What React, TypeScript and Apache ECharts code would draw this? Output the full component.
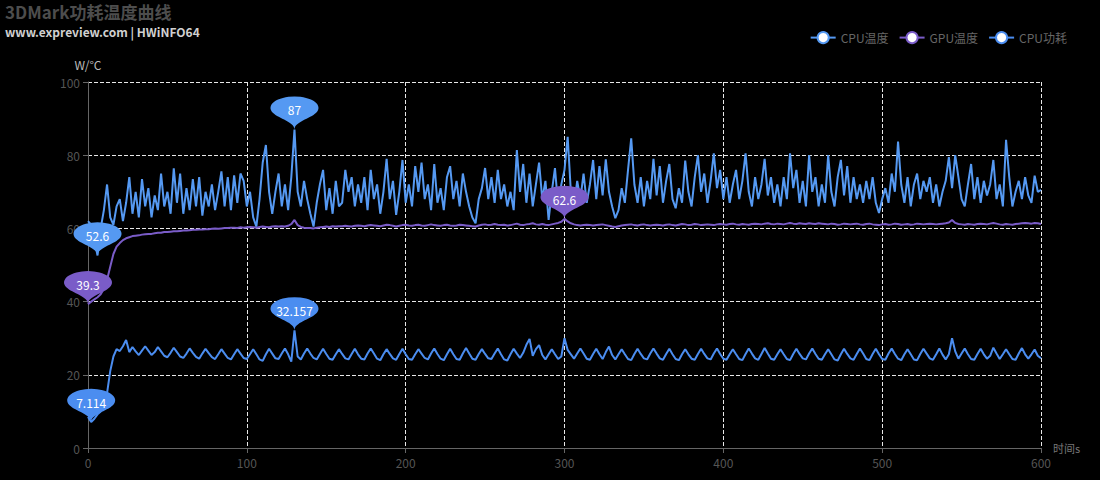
import React, { useEffect, useRef } from 'react';
import * as echarts from 'echarts';

// sampled every 2 seconds, 0..600 s
const STEP_S = 2;

const seriesNames = ['CPU温度', 'GPU温度', 'CPU功耗'];

const cpuTemp = [
  62, 61, 57, 52.6, 60, 65, 72, 63, 61, 66,
  68, 62, 67, 74, 64, 70, 63, 73.5, 66, 71,
  63, 69, 65, 75, 66, 70, 64, 76.4, 67, 75,
  64, 71, 65, 73.5, 66, 74, 63.5, 70, 66, 72,
  65, 70, 75.6, 66, 74, 65, 74.5, 67, 75, 73,
  66, 70, 63, 60.5, 68, 78, 82.8, 70, 64, 70,
  75, 66, 72, 65, 74, 87, 70, 66, 73, 68,
  64, 60.5, 67, 72, 76, 65, 71, 64, 73, 66,
  67, 76, 70, 74, 66, 72, 67, 74, 65, 76,
  68, 72, 64, 70, 79, 68, 73, 63.7, 70, 78.7,
  67, 72, 66, 77, 70, 78, 68, 72, 65, 77.6,
  67, 71, 65, 74, 77, 68, 73, 66, 75, 70,
  66, 63, 61.4, 68, 71, 76.5, 68, 74, 67, 76,
  68, 72, 66, 70, 65, 81.4, 70, 77.6, 67, 75,
  66, 72, 78, 68, 73, 62.3, 70, 76.5, 66, 72,
  76, 85, 70, 66, 73, 68, 75, 67, 72, 78.7,
  68, 77, 69, 78.9, 70, 66, 62.8, 65, 71, 67,
  76, 84.6, 72, 67, 74, 66, 73, 68, 79, 69,
  77, 67, 73, 77.6, 68, 65.5, 71, 67, 78.5, 70,
  66, 74, 80, 70, 75, 67, 73, 80.5, 71, 76,
  68, 74, 67, 72, 76, 68, 73, 80.5, 70, 66,
  74, 68, 72, 79, 69, 74, 67, 72, 66, 74,
  68, 80.5, 71, 76, 67, 73, 66, 80, 70, 74,
  66, 72, 67, 80, 70, 66, 74, 78.7, 69, 77,
  67, 74, 68, 72, 67, 73, 68, 74, 67, 64.2,
  68, 71, 67, 75, 70, 83.7, 72, 67, 74, 66,
  72, 75, 68, 73, 70, 74, 67, 72, 66, 70,
  73, 79.5, 71, 80, 74, 68, 66, 72, 77.6, 68,
  74, 67, 73, 69, 72, 78.7, 68, 72, 66, 84.2,
  74, 66, 70, 73, 68, 74, 69, 67, 74.4, 70,
  70.5,
];

const gpuTemp = [
  39.3, 40, 40.6, 41.2, 42, 43.5, 46, 49.5, 53, 55,
  56, 56.8, 57.3, 57.6, 57.9, 58, 58.1, 58.3, 58.4, 58.5,
  58.5, 58.7, 58.8, 58.8, 59, 59, 59.1, 59.2, 59.2, 59.3,
  59.4, 59.4, 59.5, 59.6, 59.6, 59.7, 59.7, 59.8, 59.8, 59.9,
  60, 59.9, 60, 60.1, 60.1, 60.2, 60.2, 60.1, 60.3, 60.2,
  60.3, 60.4, 60.3, 60.2, 60.4, 60.5, 60.4, 60.3, 60.5, 60.6,
  60.5, 60.6, 60.5, 60.7, 61.2, 62.3, 60.9, 60.4, 60.2, 60.1,
  60.1, 60, 60.2, 60.3, 60.4, 60.5, 60.4, 60.6, 60.5, 60.6,
  60.6, 60.7, 60.6, 60.5, 60.7, 60.8, 60.7, 60.6, 60.8, 60.9,
  60.8, 60.7, 60.6, 60.8, 61, 60.9, 60.7, 60.5, 60.7, 60.9,
  61, 60.8, 60.7, 60.9, 61, 60.8, 60.7, 60.9, 61.1, 60.9,
  60.8, 60.7, 60.9, 61, 60.8, 60.7, 60.8, 61, 60.9, 60.8,
  60.7, 60.6, 60.5, 60.8, 61, 61.1, 60.9, 61, 61.2, 61,
  60.9, 61, 60.8, 60.9, 61.1, 61.3, 61, 60.9, 61.1, 61.2,
  61.4, 61.1, 61, 61.2, 61, 60.9, 61.1, 61.3, 61.5, 61.8,
  62.6, 61.9, 61.4, 61.1, 60.9, 60.8, 60.9, 61, 60.9, 60.8,
  60.9, 61, 61.1, 60.9, 60.7, 60.5, 60.4, 60.6, 60.8, 60.9,
  61, 61.1, 60.9, 60.8, 61, 61.1, 60.9, 60.8, 60.9, 61,
  60.9, 60.8, 61, 61.1, 60.9, 60.8, 61, 61.2, 61.1, 60.9,
  61, 61.2, 61.1, 60.9, 61, 61.1, 61, 60.9, 61.1, 61.2,
  61.1, 61, 61.2, 61.3, 61.1, 61, 61.2, 61.1, 61, 61.2,
  61.3, 61.2, 61.1, 61.3, 61.4, 61.2, 61.1, 61.3, 61.2, 61.1,
  61.3, 61.5, 61.3, 61.2, 61.4, 61.3, 61.2, 61.4, 61.3, 61.2,
  61.4, 61.3, 61.2, 61.1, 61.3, 61.2, 61, 61.1, 61.3, 61.2,
  61.1, 61.2, 61.3, 61.1, 61, 61.2, 61.3, 61.1, 61, 60.9,
  61.1, 61.2, 61, 61.1, 61.3, 61.2, 61, 61.1, 61.2, 61,
  61.1, 61.3, 61.2, 61.1, 61.2, 61.3, 61.2, 61.1, 61.2, 61.3,
  61.4, 61.6, 62.3, 61.5, 61.2, 61.1, 61, 61.2, 61.1, 61,
  61.2, 61.3, 61.2, 61.1, 61.3, 61.5, 61.3, 61.1, 61, 61.2,
  61.1, 61, 61.2, 61.3, 61.4, 61.5, 61.4, 61.3, 61.5, 61.4,
  61.2,
];

const cpuPower = [
  8.5, 7.114, 8, 9.2, 10, 11.5, 15, 21, 25, 27,
  26.5, 27.8, 29.5, 26.2, 27.6, 26.4, 25.4, 26.6, 27.8, 26.6,
  25.4, 26.2, 27.6, 26.4, 25.2, 24.8, 26, 27.4, 26.2, 25,
  24.6, 25.8, 27.2, 26, 24.9, 24.4, 25.8, 27.1, 25.9, 24.8,
  24.3, 25.6, 27, 25.8, 24.6, 24.2, 25.6, 27, 25.8, 24.6,
  24.3, 25.6, 27, 25.6, 24.2, 23.8, 25.6, 27.1, 25.8, 24.5,
  24.3, 25.8, 27.2, 25.6, 23.6, 32.157, 25, 24.2, 25.8, 27.2,
  25.8, 24.6, 24.2, 25.7, 27.1, 25.7, 24.4, 24.1, 25.6, 27,
  25.7, 24.5, 24.2, 25.7, 27.1, 25.6, 24.4, 24.2, 25.8, 27.2,
  25.8, 24.4, 24, 25.6, 27, 25.7, 24.5, 24.1, 25.7, 27.1,
  25.6, 24.3, 24.1, 25.6, 27, 25.8, 24.6, 24.2, 25.8, 27.2,
  25.7, 24.4, 24, 25.6, 27.1, 25.6, 24.3, 24.1, 25.8, 27.3,
  25.8, 24.4, 24.1, 25.7, 27, 25.7, 24.5, 24.3, 25.8, 27.2,
  25.6, 24.2, 23.9, 25.6, 27.1, 25.8, 24.6, 26, 28.2, 29.8,
  25.2, 27, 28.1, 25.4, 24.2, 25.6, 27, 25.6, 24.3, 25,
  30, 26.8, 25.6, 24.4, 25.8, 27.2, 25.8, 24.4, 24.1, 25.7,
  27.1, 25.6, 24.3, 26.2, 27.7, 25.4, 24.2, 25.6, 27, 25.6,
  24.3, 24, 25.7, 27.1, 25.7, 24.5, 24.2, 25.8, 27.2, 25.8,
  24.5, 24.1, 25.7, 27.1, 25.6, 24.3, 24, 25.6, 27, 25.6,
  24.4, 24.1, 25.7, 27.1, 25.7, 24.5, 24.2, 25.8, 27.2, 25.7,
  24.4, 24.1, 25.6, 27, 25.6, 24.3, 24, 25.7, 27.2, 25.8,
  24.5, 24.1, 25.7, 27.3, 25.8, 24.4, 24.1, 25.6, 27, 25.6,
  24.3, 24, 25.7, 27.1, 25.7, 24.5, 24.2, 25.8, 27.2, 25.7,
  24.4, 24.1, 25.6, 27, 25.6, 24.2, 23.9, 25.6, 27.1, 25.7,
  24.5, 24.1, 25.7, 27.2, 25.8, 24.3, 24, 25.7, 27.1, 25.6,
  24.3, 24.1, 25.8, 27.2, 25.7, 24.4, 24, 25.6, 27, 25.6,
  24.2, 24, 25.7, 27.1, 25.8, 24.5, 24.1, 25.6, 27.2, 25.5,
  24.2, 25.6, 30, 26.4, 24.4, 25.8, 27.2, 25.6, 24.3, 24.1,
  25.7, 27.1, 25.6, 24.4, 25.2, 27.4, 25.8, 24.3, 25.6, 27,
  25.6, 24.3, 24.1, 25.8, 27.3, 25.6, 24.4, 25.6, 26.9, 25.2,
  24.5,
];

const seriesValues = [cpuTemp, gpuTemp, cpuPower];
const seriesColors = ['#5599f2', '#7a5cc8', '#4b8df0'];

const FONT = "'Microsoft YaHei', 'Noto Sans CJK SC', 'Noto Sans', sans-serif";

export default function App() {
  const ref = useRef<HTMLDivElement>(null);

  useEffect(() => {
    const chart = echarts.init(ref.current!, null, { renderer: 'svg' });
    const toPairs = (arr: number[]) => arr.map((v, i) => [i * STEP_S, v]);

    chart.setOption({
      animation: false,
      backgroundColor: '#000',
      textStyle: { fontFamily: FONT },
      title: {
        text: '3DMark功耗温度曲线',
        subtext: 'www.expreview.com | HWiNFO64',
        left: 0,
        top: -2,
        itemGap: 5,
        textStyle: { color: '#4d4d4d', fontSize: 17, fontWeight: 'bold', fontFamily: FONT },
        subtextStyle: { color: '#d0d0d0', fontSize: 12, fontWeight: 'bold', fontFamily: FONT },
      },
      legend: {
        data: seriesNames,
        right: 28,
        top: 26,
        itemGap: 10,
        itemWidth: 25,
        itemHeight: 14,
        textStyle: { color: '#666', fontSize: 12, fontFamily: FONT },
      },
      grid: { left: 88, right: 59, top: 82, bottom: 32, containLabel: false },
      xAxis: {
        type: 'value',
        min: 0,
        max: 600,
        interval: 100,
        name: '时间s',
        nameGap: 12,
        nameTextStyle: { color: '#777', fontSize: 11 },
        axisLine: { show: true, lineStyle: { color: '#666' } },
        axisTick: { show: true, lineStyle: { color: '#666' } },
        axisLabel: { color: '#555', fontSize: 12 },
        splitLine: { show: true, lineStyle: { color: '#e8e8e8', type: 'dashed', width: 1 } },
      },
      yAxis: {
        type: 'value',
        min: 0,
        max: 100,
        interval: 20,
        name: 'W/°C',
        nameGap: 12,
        nameTextStyle: { color: '#bbb', fontSize: 12 },
        axisLine: { show: true, lineStyle: { color: '#666' } },
        axisTick: { show: true, lineStyle: { color: '#666' } },
        axisLabel: { color: '#555', fontSize: 12 },
        splitLine: { show: true, lineStyle: { color: '#e8e8e8', type: 'dashed', width: 1 } },
      },
      series: seriesNames.map((name, idx) => ({
        name,
        type: 'line',
        data: toPairs(seriesValues[idx]),
        symbol: 'emptyCircle',
        symbolSize: 8,
        showSymbol: false,
        color: seriesColors[idx],
        lineStyle: { width: 2, color: seriesColors[idx] },
        z: idx === 1 ? 3 : 2,
        markPoint: {
          symbol: 'pin',
          symbolSize: [80, 38],
          label: { color: '#fff', fontSize: 12, fontFamily: FONT },
          itemStyle: { color: seriesColors[idx] },
          data: [
            { type: 'max', name: '最大值' },
            { type: 'min', name: '最小值' },
          ],
        },
      })),
    });

    return () => chart.dispose();
  }, []);

  return (
    <div
      ref={ref}
      style={{ position: 'fixed', left: 0, top: 0, width: 1100, height: 480, background: '#000' }}
    />
  );
}
